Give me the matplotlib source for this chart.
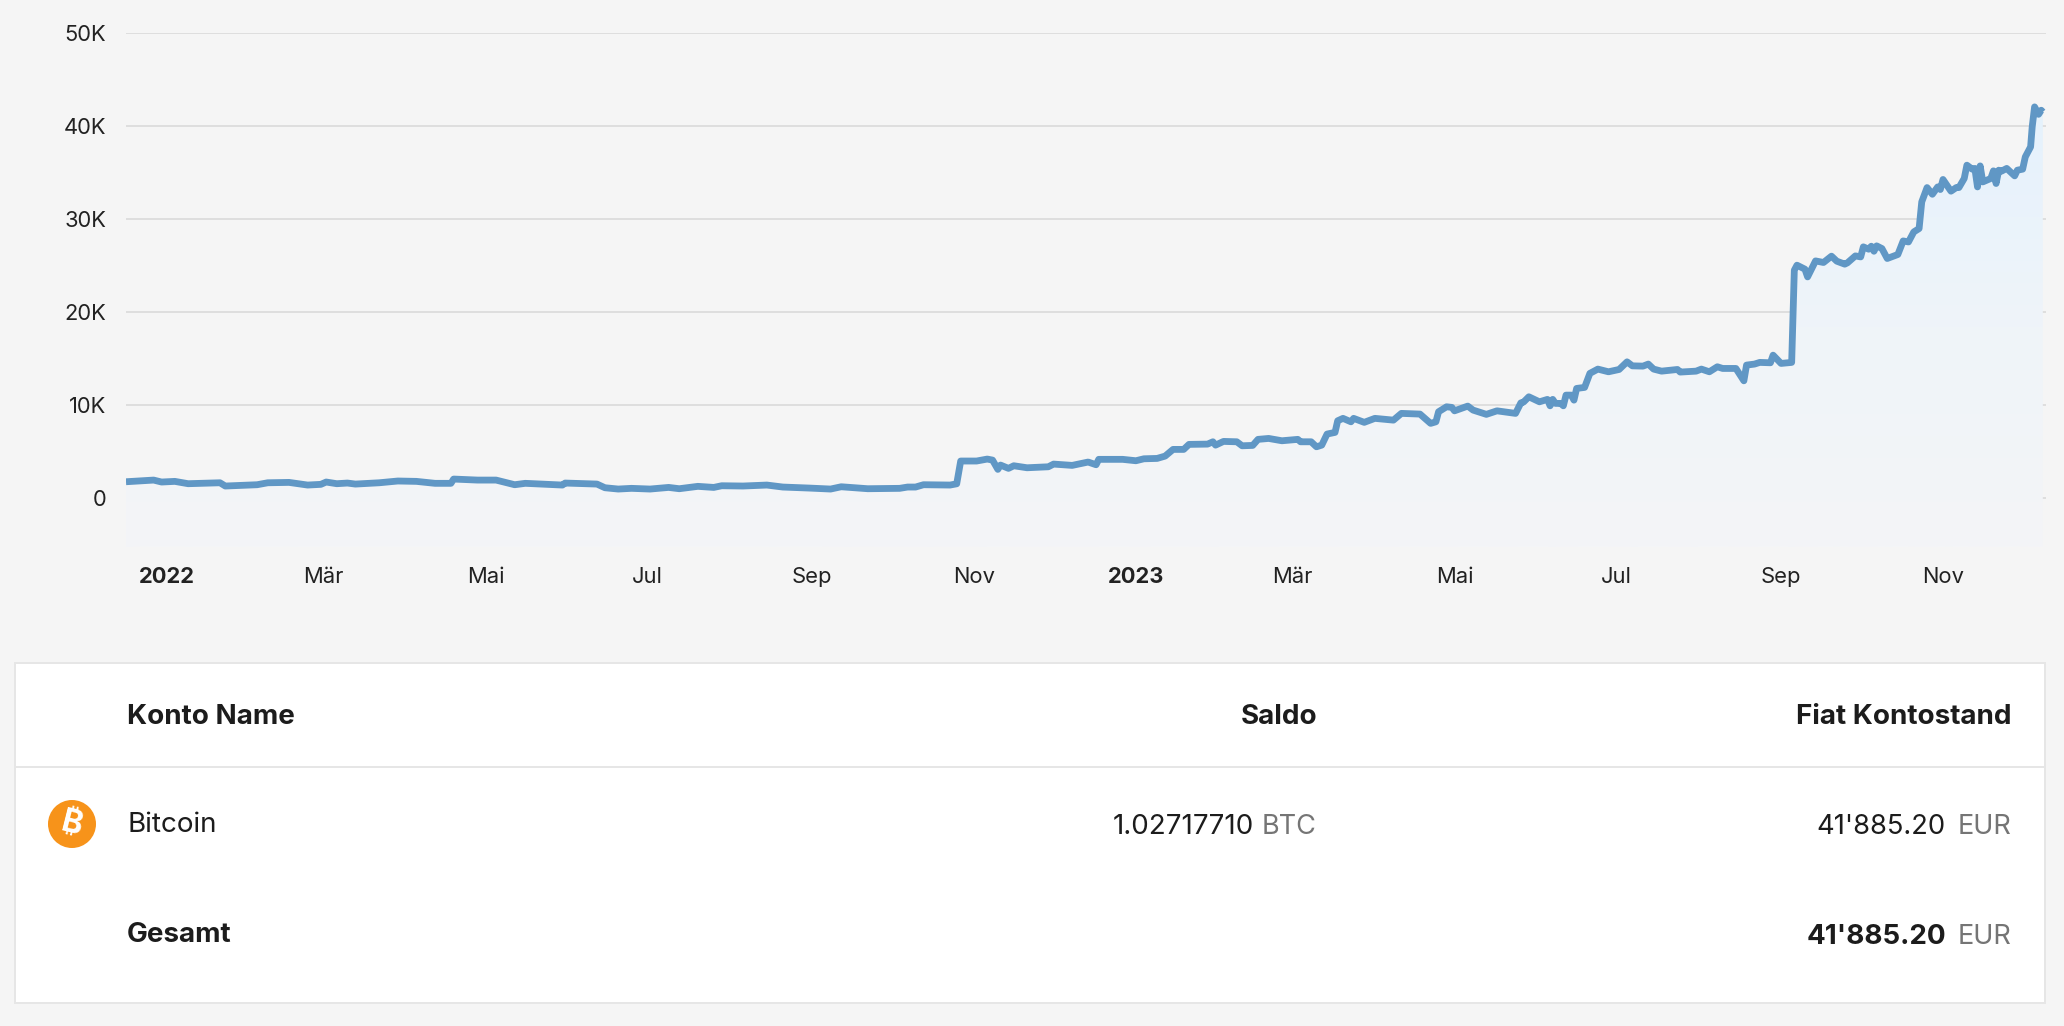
import numpy as np
import matplotlib
matplotlib.use("Agg")
import matplotlib.pyplot as plt
import matplotlib.dates as mdates
from matplotlib.colors import LinearSegmentedColormap
from matplotlib.patches import Rectangle, Circle

days_since_2022 = [
    -15.4, -5, -2, 3, 8, 20, 22, 34, 38, 46, 53, 58, 60, 64, 68, 71, 80, 87, 94, 101, 107, 108, 117, 124, 131, 135, 149,
    150, 162, 165, 170, 175, 182, 189, 193, 200, 206, 209, 217, 226, 232, 242, 250, 254, 264, 276, 279, 282, 285, 295,
    297.5, 299, 305, 309, 311, 313, 314, 317, 319, 324, 332, 334, 341, 347, 350, 351, 360, 365, 368, 373, 376, 379, 383,
    385, 392, 394, 395, 398, 403, 405, 409, 411, 415, 420, 426, 427, 431, 433, 435, 437, 440, 441, 443, 446, 447, 451,
    455, 462, 465, 472, 476, 478, 479, 482, 484, 485, 490, 492, 497, 501, 508, 510, 511, 513, 517, 520, 521, 522, 523,
    525, 526, 527, 529, 530, 531, 534, 536, 539, 543, 547, 550, 552, 556, 558, 560, 563, 569, 570, 576, 578, 581, 584,
    586, 591, 594, 595, 598, 600, 604, 605, 608, 612, 613, 614, 617, 618, 621, 624, 627, 629, 632, 633, 636, 638, 639,
    641, 642, 643, 644, 646, 648, 652, 654, 656, 658, 660, 661, 663, 665, 667, 668, 669, 672, 674, 675, 677, 678, 680,
    681, 682, 683, 684, 687, 688, 689, 690, 691, 693, 696, 697, 699, 700, 702, 702.6, 703.5, 704.3, 705, 706, 706.6,
]
balance_eur = [
    1720, 1900, 1690, 1760, 1510, 1610, 1260, 1400, 1610, 1650, 1365, 1440, 1690, 1510, 1580, 1470, 1610, 1800, 1760, 1550, 1550, 2010, 1900, 1900, 1400, 1550, 1365,
    1580, 1470, 1075, 935, 1010, 935, 1110, 970, 1225, 1110, 1290, 1260, 1365, 1150, 1040, 935, 1180, 970, 1010, 1150, 1150, 1400, 1365,
    1500, 3950, 3950, 4160, 4050, 3050, 3515, 3160, 3440, 3225, 3330, 3620, 3480, 3840, 3550, 4130, 4130, 3980, 4190, 4230, 4480, 5200, 5200,
    5740, 5770, 6020, 5660, 6060, 6020, 5590, 5630, 6280, 6380, 6130, 6280, 6020, 6020, 5480, 5660, 6850, 7030, 8280, 8540, 8170, 8540, 8110,
    8540, 8350, 9075, 9000, 8000, 8170, 9250, 9785, 9720, 9350, 9860, 9430, 8970, 9350, 9075, 10210, 10290, 10860, 10320, 10580, 9890, 10580, 10150,
    10150, 9890, 11040, 11040, 10500, 11760, 11870, 13380, 13840, 13550, 13800, 14620, 14190, 14160, 14380, 13840, 13620, 13800, 13520, 13620, 13840, 13550, 14090,
    13910, 13910, 12580, 14270, 14380, 14560, 14520, 15340, 14450, 14560, 24480, 25020, 24590, 23760, 25480, 25310, 25990, 25450, 25130, 25270, 26020, 25910, 26990,
    26740, 27060, 26520, 27100, 26810, 25740, 26170, 27630, 27520, 28600, 28960, 31830, 33370, 32650, 33440, 33160, 34240, 32980, 33370, 33370, 34350, 35780, 35350,
    35430, 33440, 35700, 33980, 34350, 35170, 33810, 35240, 35130, 35430, 34630, 35240, 35350, 36670, 37750, 39900, 42050, 41620, 41250, 41690, 41500,
]
y_tick_values = [0, 10000, 20000, 30000, 40000, 50000]
y_tick_labels = ["0", "10K", "20K", "30K", "40K", "50K"]
x_tick_dates = ["2022-01-01", "2022-03-01", "2022-05-01", "2022-07-01", "2022-09-01", "2022-11-01",
                "2023-01-01", "2023-03-01", "2023-05-01", "2023-07-01", "2023-09-01", "2023-11-01"]
x_tick_labels = ["2022", "Mär", "Mai", "Jul", "Sep", "Nov", "2023", "Mär", "Mai", "Jul", "Sep", "Nov"]

header_cols = ["Konto Name", "Saldo", "Fiat Kontostand"]
account_name = "Bitcoin"
saldo_amount, saldo_unit = "1.02717710", "BTC"
fiat_amount, fiat_unit = "41'885.20", "EUR"
total_label = "Gesamt"

W, H = 2064, 1026
BG = "#f5f5f5"
plt.rcParams["font.family"] = ["Inter", "DejaVu Sans"]

fig = plt.figure(figsize=(W / 100, H / 100), dpi=100, facecolor=BG)
L, R, T, B = 126, 2046, 33, 547
ax = fig.add_axes([L / W, 1 - B / H, (R - L) / W, (B - T) / H], facecolor=BG)

base = mdates.date2num(np.datetime64("2022-01-01"))
x = base + np.array(days_since_2022)
y = np.array(balance_eur, dtype=float)

ymin = -5300
xlim = (x[0], base + 707.8)
cmap = LinearSegmentedColormap.from_list("fill", ["#f4f5f7", "#eff4f9", "#e5f2fd"])
grad = np.linspace(0, 1, 256).reshape(-1, 1)
poly = ax.fill_between(x, y, ymin, facecolor="none", edgecolor="none", zorder=2)
im = ax.imshow(grad, origin="lower", cmap=cmap, aspect="auto", zorder=2,
               extent=(x[0], x[-1], ymin, y.max()), interpolation="bilinear")
im.set_clip_path(poly.get_paths()[0], transform=ax.transData)
ax.plot(x, y, color="#6097c5", lw=4.9, solid_joinstyle="round", solid_capstyle="butt", zorder=3)

ax.set_xlim(*xlim)
ax.set_ylim(ymin, 50000)
ax.set_yticks(y_tick_values, y_tick_labels)
ax.set_xticks([base + (np.datetime64(d) - np.datetime64("2022-01-01")).astype(int) for d in x_tick_dates], x_tick_labels)
ax.grid(axis="y", color="#dedede", lw=1.4, zorder=1)
ax.grid(axis="x", visible=False)
ax.set_axisbelow(True)
for s in ax.spines.values():
    s.set_visible(False)
ax.tick_params(axis="y", length=0, pad=14.4, labelsize=15.8, labelcolor="#222222")
ax.tick_params(axis="x", length=0, pad=14.2, labelsize=15.8, labelcolor="#222222")
for lab, txt in zip(ax.get_xticklabels(), x_tick_labels):
    if txt.startswith("20"):
        lab.set_fontweight("bold")

# table overlay, drawn in figure pixel coordinates
ov = fig.add_axes([0, 0, 1, 1], facecolor="none")
ov.set_xlim(0, W)
ov.set_ylim(H, 0)
ov.axis("off")
ov.add_patch(Rectangle((15, 663), 2030, 340, facecolor="white", edgecolor="#e6e6e6", lw=1.4))
ov.plot([15, 2045], [767, 767], color="#e6e6e6", lw=1.4)

INK, GREY = "#1c1c1c", "#757575"
FS = 20
ov.text(127, 716.5, header_cols[0], fontsize=FS, fontweight="bold", color=INK, va="center", ha="left")
ov.text(1317, 716.5, header_cols[1], fontsize=FS, fontweight="bold", color=INK, va="center", ha="right")
ov.text(2011, 716.5, header_cols[2], fontsize=FS, fontweight="bold", color=INK, va="center", ha="right")
ov.text(127, 824.5, account_name, fontsize=FS, color=INK, va="center", ha="left")
ov.text(1254, 826.5, saldo_amount, fontsize=FS, color=INK, va="center", ha="right")
ov.text(1317, 826.5, saldo_unit, fontsize=19.5, color=GREY, va="center", ha="right")
ov.text(1946, 826.5, fiat_amount, fontsize=19.7, color=INK, va="center", ha="right")
ov.text(2011, 826.5, fiat_unit, fontsize=19.5, color=GREY, va="center", ha="right")
ov.text(127, 934.5, total_label, fontsize=FS, fontweight="bold", color=INK, va="center", ha="left")
ov.text(1946, 936.5, fiat_amount, fontsize=FS, fontweight="bold", color=INK, va="center", ha="right")
ov.text(2011, 936.5, fiat_unit, fontsize=19.5, color=GREY, va="center", ha="right")

ov.add_patch(Circle((72, 824), 24, facecolor="#f7931a", edgecolor="none"))
ov.text(72, 824, "\u20bf", family=["Inter", "Noto Sans", "Roboto", "Open Sans", "Lato", "Liberation Sans", "DejaVu Sans"],
        fontsize=23, fontweight="bold", color="white",
        rotation=-14, ha="center", va="center", rotation_mode="anchor")

fig.savefig("out.png", dpi=100, facecolor=BG)
